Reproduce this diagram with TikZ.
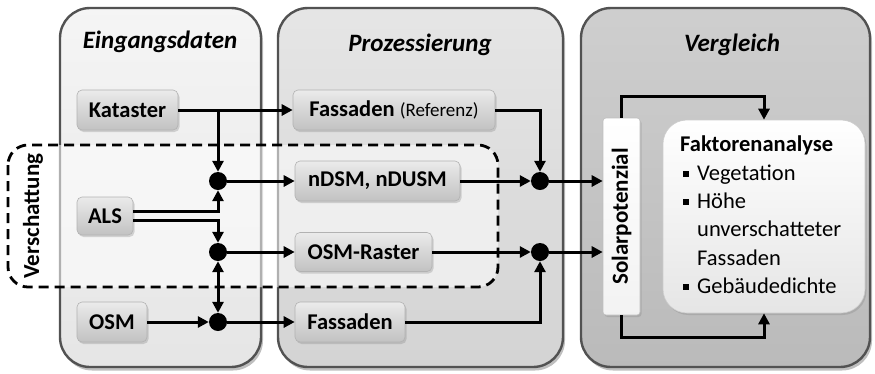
\documentclass[tikz,border=0pt]{standalone}
\usepackage{fontspec}
\setmainfont{Carlito}
\usetikzlibrary{arrows.meta,shadows,calc}
\newcommand{\sqbul}{\makebox[14pt][l]{\rule[0.16em]{5.5pt}{5.5pt}}}
\begin{document}
\begin{tikzpicture}[x=1pt,y=-1pt,
  panel/.style={draw=black!68, line width=2.4pt, rounded corners=30pt,
    drop shadow={shadow xshift=2pt,shadow yshift=-3.5pt,opacity=0.5}},
  ptitle/.style={font=\fontsize{25}{30}\selectfont\bfseries\itshape},
  databox/.style={draw=black!30, line width=0.6pt, rounded corners=5pt,
    top color=black!8, bottom color=black!24, minimum height=40pt, inner sep=0pt,
    font=\fontsize{22.5}{27}\selectfont\bfseries,
    drop shadow={shadow xshift=1.5pt,shadow yshift=-2pt,opacity=0.3}},
  dot/.style={circle, fill=black, minimum size=18pt, inner sep=0pt},
  arr/.style={line width=3pt, -{Triangle[length=11pt,width=11pt]}},
  arrboth/.style={line width=3pt, {Triangle[length=11pt,width=11pt]}-{Triangle[length=11pt,width=11pt]}},
  region/.style={draw=black, line width=2.8pt, dash pattern=on 10pt off 6pt,
    rounded corners=20pt, fill=white, fill opacity=0.55},
  vlabel/.style={font=\fontsize{23}{27}\selectfont\bfseries, rotate=90}
]
\useasboundingbox (0,0) rectangle (875,373);

% three column panels
\draw[panel, top color=black!4, bottom color=black!10] (60,8) rectangle (261,367);
\draw[panel, top color=black!10, bottom color=black!17] (278,8) rectangle (563,367);
\draw[panel, top color=black!19, bottom color=black!27] (581,8) rectangle (870,367);

\node[ptitle] (t1) at (160,42) {Eingangsdaten};
\node[ptitle] (t2) at (420,45) {Prozessierung};
\node[ptitle] (t3) at (732,45) {Vergleich};

% shading region
\draw[region] (8,145) rectangle (498,287);
\node[vlabel] (vs) at (33,216) {Verschattung};

% input data
\node[databox, minimum width=101pt] (kat) at (127.5,110) {Kataster};
\node[databox, minimum width=56pt, minimum height=38pt] (als) at (105,216) {ALS};
\node[databox, minimum width=70pt] (osm) at (112,322) {OSM};

% processing
\node[databox, minimum width=202pt] (fref) at (394,110) {Fassaden {\mdseries\fontsize{19}{22}\selectfont(Referenz)}};
\node[databox, minimum width=165pt] (ndsm) at (377.5,181) {nDSM, nDUSM};
\node[databox, minimum width=137pt, minimum height=39pt] (osmr) at (363.5,252) {OSM-Raster};
\node[databox, minimum width=110pt] (fas) at (350,322) {Fassaden};

% junctions
\node[dot] (d1) at (218,181) {};
\node[dot] (d2) at (218,252) {};
\node[dot] (d3) at (218,322) {};
\node[dot] (d4) at (540,181) {};
\node[dot] (d5) at (540,252) {};

% comparison
\node[draw=black!25, line width=0.6pt, rounded corners=3pt, top color=white, bottom color=black!5,
  minimum width=37pt, minimum height=197pt, inner sep=0pt,
  drop shadow={shadow xshift=1.5pt,shadow yshift=-2pt,opacity=0.3}] (sol) at (621.5,216.5) {};
\node[vlabel] (soltxt) at (sol.center) {Solarpotenzial};
\node[draw=black!20, line width=0.6pt, rounded corners=24pt, top color=white, bottom color=black!10,
  minimum width=202pt, minimum height=193pt, inner sep=0pt,
  drop shadow={shadow xshift=1.5pt,shadow yshift=-2pt,opacity=0.3}] (fak) at (764,216.5) {};
\node[anchor=north west, align=left, inner sep=0pt, font=\fontsize{22.5}{28.3}\selectfont] (faktxt) at (680,136)
  {\textbf{Faktorenanalyse}\\
   \hspace*{3pt}\sqbul Vegetation\\
   \hspace*{3pt}\sqbul H\"ohe\\
   \hspace*{17pt}unverschatteter\\
   \hspace*{17pt}Fassaden\\
   \hspace*{3pt}\sqbul Geb\"audedichte};

% connectors
\draw[arr] (kat) -- (fref);
\draw[arr] (kat.east -| d1) -- (d1);
\draw[arr] ([yshift=4.5pt]als.east) -| (d1.south);
\draw[arr] ([yshift=-4.5pt]als.east) -| (d2.north);
\draw[arrboth] (d2) -- (d3);
\draw[arr] (osm) -- (d3);
\draw[arr] (d1) -- (ndsm);
\draw[arr] (d2) -- (osmr);
\draw[arr] (d3) -- (fas);
\draw[arr] (fref) -| (d4);
\draw[arr] (ndsm) -- (d4);
\draw[arr] (osmr) -- (d5);
\draw[arr] (fas) -| (d5);
\draw[arr] (d4) -- (d4 -| sol.west);
\draw[arr] (d5) -- (d5 -| sol.west);
\draw[arr] (sol.north) -- ++(0,-21) -| (fak.north);
\draw[arr] (sol.south) -- ++(0,22) -| (fak.south);
\end{tikzpicture}
\end{document}
